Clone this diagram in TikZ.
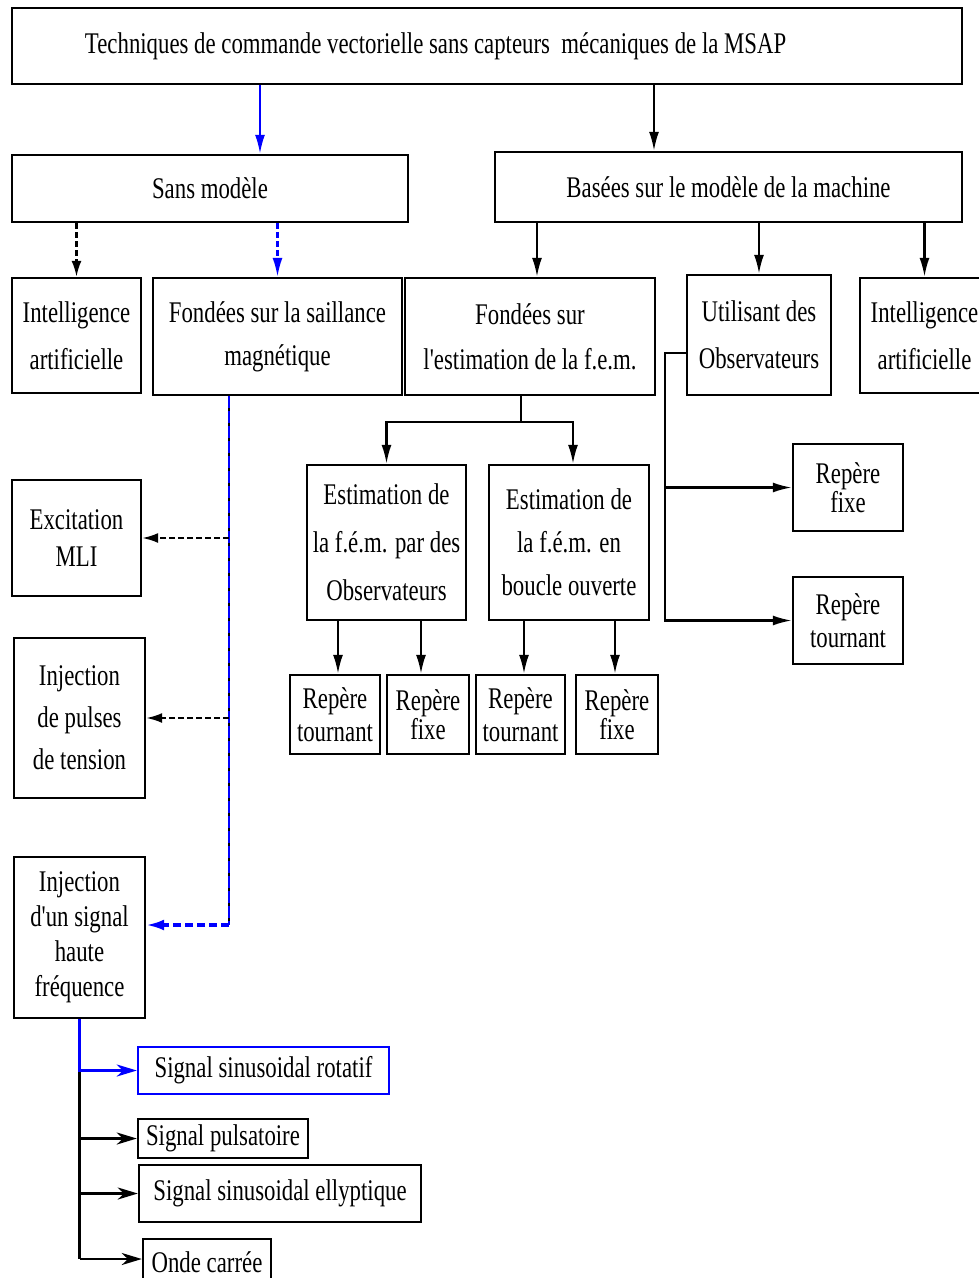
\documentclass[tikz,border=0pt]{standalone}
\usepackage{fontspec}
\setmainfont{Liberation Serif}[FakeStretch=0.76,Ligatures=TeXOff]
\usetikzlibrary{arrows.meta,calc}
\newcommand\lfs[1]{\fontsize{30}{#1}\selectfont}
\begin{document}
\begin{tikzpicture}[x=1pt,y=-1pt,
  box/.style={draw,line width=2.4pt,inner sep=0pt,align=center},
  arr/.style={-{Latex[length=19pt,width=10pt]},line width=2.2pt},
  darr/.style={-{Latex[length=16pt,width=10pt]},line width=2.2pt,dash pattern=on 6pt off 3pt},
  bdarr/.style={-{Latex[length=19pt,width=10pt]},line width=2.2pt,dash pattern=on 6pt off 3pt,blue},
  sarr/.style={-{Stealth[length=20pt,width=12pt,inset=6pt]},line width=2.2pt}]
\useasboundingbox (0,0) rectangle (979,1278);

% top level
\node[box,minimum width=950pt,minimum height=76pt,font=\lfs{36}] (top) at (487,46)
  {\makebox[950pt][l]{\hspace{73pt}Techniques de commande vectorielle sans capteurs~ mécaniques de la MSAP}};

% second level
\node[box,minimum width=396pt,minimum height=67pt,font=\lfs{36}] (sans) at (210,188.5) {Sans modèle};
\node[box,minimum width=467pt,minimum height=70pt,font=\lfs{36}] (basees) at (728.5,187) {Basées sur le modèle de la machine};

% third level
\node[box,minimum width=129pt,minimum height=115pt,font=\lfs{47}] (ia1) at (76.5,335.5) {Intelligence\\artificielle};
\node[box,minimum width=249pt,minimum height=117pt,font=\lfs{43}] (sail) at (277.5,336.5) {Fondées sur la saillance\\magnétique};
\node[box,minimum width=250pt,minimum height=117pt,font=\lfs{45}] (fem) at (530,336.5) {Fondées sur\\l'estimation de la f.e.m.};
\node[box,minimum width=144pt,minimum height=120pt,font=\lfs{47}] (obs) at (759,335) {Utilisant des\\Observateurs};
\node[box,minimum width=129pt,minimum height=115pt,font=\lfs{47}] (ia2) at (924.5,335.5) {Intelligence\\artificielle};

% back-EMF estimators
\node[box,minimum width=159pt,minimum height=155pt,font=\lfs{48}] (estobs) at (386.5,542.5) {Estimation de\\la f.é.m. par des\\Observateurs};
\node[box,minimum width=160pt,minimum height=155pt,font=\lfs{43}] (estbo) at (569,542.5) {Estimation de\\la f.é.m. en\\boucle ouverte};

% reference frames
\node[box,minimum width=90pt,minimum height=79pt,font=\lfs{33}] (r1) at (335,714.5) {Repère\\tournant};
\node[box,minimum width=82pt,minimum height=79pt,font=\lfs{29}] (r2) at (428,714.5) {Repère\\fixe};
\node[box,minimum width=89pt,minimum height=79pt,font=\lfs{33}] (r3) at (520.5,714.5) {Repère\\tournant};
\node[box,minimum width=82pt,minimum height=79pt,font=\lfs{29}] (r4) at (617,714.5) {Repère\\fixe};
\node[box,minimum width=110pt,minimum height=87pt,font=\lfs{29}] (rf) at (848,487.5) {Repère\\fixe};
\node[box,minimum width=110pt,minimum height=87pt,font=\lfs{33}] (rt) at (848,620.5) {Repère\\tournant};

% saliency-based methods
\node[box,minimum width=129pt,minimum height=116pt,font=\lfs{37}] (mli) at (76.5,538) {Excitation\\MLI};
\node[box,minimum width=131pt,minimum height=160pt,font=\lfs{42}] (pulses) at (79.5,718) {Injection\\de pulses\\de tension};
\node[box,minimum width=131pt,minimum height=161pt,font=\lfs{35}] (hf) at (79.5,937.5) {Injection\\d'un signal\\haute\\fréquence};

% injected signals
\node[box,draw=blue,minimum width=251pt,minimum height=47pt,font=\lfs{36}] (s1) at (263.5,1070.5) {Signal sinusoidal rotatif};
\node[box,minimum width=170pt,minimum height=39pt,font=\lfs{36}] (s2) at (223,1138.5) {Signal pulsatoire};
\node[box,minimum width=282pt,minimum height=57pt,font=\lfs{36}] (s3) at (280,1193.5) {Signal sinusoidal ellyptique};
\node[box,minimum width=128pt,minimum height=46pt,font=\lfs{36}] (s4) at (207,1262) {Onde carrée};

% top-level branches
\coordinate (ta) at ($(sans.north)+(50,0)$);
\coordinate (tb) at ($(basees.north)+(-74.5,0)$);
\draw[arr,blue] (top.south -| ta) -- (ta);
\draw[arr] (top.south -| tb) -- (tb);

% sensorless without model
\draw[darr] (sans.south -| ia1.north) -- (ia1.north);
\draw[bdarr] (sans.south -| sail.north) -- (sail.north);

% model-based
\coordinate (cf) at ($(fem.north)+(7,0)$);
\draw[arr] (basees.south -| cf) -- (cf);
\draw[arr] (basees.south -| obs.north) -- (obs.north);
\draw[arr] (basees.south -| ia2.north) -- (ia2.north);

% back-EMF tree
\coordinate (fj) at ($(fem.south)+(-9,26)$);
\draw[arr] (fem.south -| fj) -- (fj) -| (estobs.north);
\draw[arr] (fj) -| ($(estbo.north)+(4,0)$);
\coordinate (e1) at ($(r1.north)+(3,0)$);
\coordinate (e2) at ($(r2.north)+(-7,0)$);
\coordinate (e3) at ($(r3.north)+(3.5,0)$);
\coordinate (e4) at ($(r4.north)+(-2,0)$);
\draw[arr] (estobs.south -| e1) -- (e1);
\draw[arr] (estobs.south -| e2) -- (e2);
\draw[arr] (estbo.south -| e3) -- (e3);
\draw[arr] (estbo.south -| e4) -- (e4);

% observers tree
\coordinate (oj) at ($(obs.west)+(-21,18)$);
\draw[arr] ($(obs.west)+(0,18)$) -- (oj) -- (oj |- rt.west) -- (rt.west);
\draw[arr] (oj |- rf.west) -- (rf.west);

% saliency bus
\coordinate (bus) at ($(sail.south)+(-48.5,0)$);
\coordinate (hfin) at ($(hf.east)+(0,-12.5)$);
\draw[line width=2pt] (bus) -- (bus |- hfin);
\draw[blue,line width=2.6pt,dash pattern=on 12pt off 3pt] (bus) -- (bus |- hfin);
\draw[darr] (bus |- mli.east) -- (mli.east);
\draw[darr] (bus |- pulses.east) -- (pulses.east);
\draw[-{Latex[length=18pt,width=11pt]},blue,line width=3.2pt,dash pattern=on 8pt off 4pt] (bus |- hfin) -- (hfin);

% high-frequency signals
\draw[line width=2.2pt] (hf.south |- s1.west) -- ($(hf.south |- s4.west)+(0,-3)$);
\draw[sarr,blue] (hf.south) |- (s1.west);
\draw[sarr] (hf.south |- s2.west) -- (s2.west);
\draw[sarr] (hf.south |- s3.west) -- (s3.west);
\draw[sarr] ($(hf.south |- s4.west)+(0,-3)$) -- ($(s4.west)+(0,-3)$);
\end{tikzpicture}
\end{document}
